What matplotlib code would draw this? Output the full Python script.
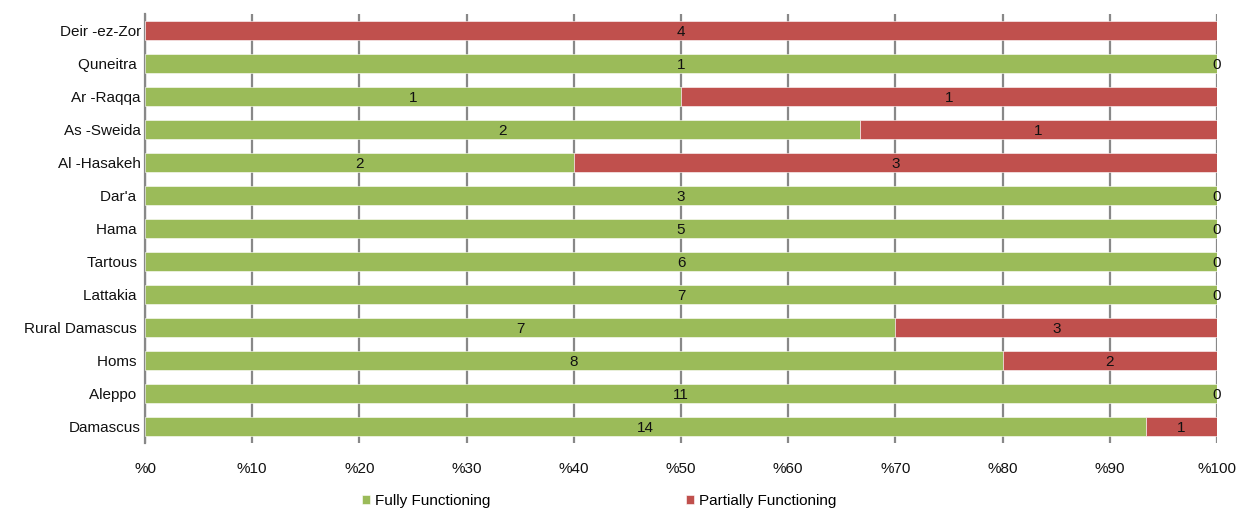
import matplotlib
matplotlib.use("Agg")
import matplotlib.pyplot as plt
import numpy as np

plt.rcParams['font.family'] = ['Liberation Sans', 'DejaVu Sans']

governorates = ["Deir -ez-Zor", "Quneitra ", "Ar -Raqqa", "As -Sweida", "Al -Hasakeh",
                "Dar'a ", "Hama ", "Tartous ", "Lattakia ", "Rural Damascus ",
                "Homs ", "Aleppo ", "Damascus"]
fully = [0, 1, 1, 2, 2, 3, 5, 6, 7, 7, 8, 11, 14]
partially = [4, 0, 1, 1, 3, 0, 0, 0, 0, 3, 2, 0, 1]
tick_values = list(range(0, 101, 10))
tick_labels = ["%" + str(v) for v in tick_values]

green = "#9BBB59"
red = "#C0504D"

fully_a = np.array(fully, dtype=float)
part_a = np.array(partially, dtype=float)
total = fully_a + part_a
fully_pct = fully_a / total * 100
part_pct = part_a / total * 100

fig = plt.figure(figsize=(12.49, 5.09), dpi=100)
ax = fig.add_axes([0.1161, 0.1297, 0.8583, 0.8428])

y = np.arange(len(governorates))[::-1]
h = 0.56
ax.barh(y, fully_pct, height=h, color=green, edgecolor="white", linewidth=0.4, zorder=3,
        label="Fully Functioning")
ax.barh(y, part_pct, left=fully_pct, height=h, color=red, edgecolor="white", linewidth=0.4,
        zorder=3, label="Partially Functioning")

for yi, f, p, fp, pp in zip(y, fully, partially, fully_pct, part_pct):
    if f > 0:
        ax.text(fp / 2, yi - 0.05, str(f), ha="center", va="center", fontsize=11,
                color="#111111", zorder=4)
    ax.text(fp + pp / 2, yi - 0.05, str(p), ha="center", va="center", fontsize=11,
            color="#111111", zorder=4)

ax.set_xlim(0, 100)
ax.set_ylim(-0.5, len(governorates) - 0.5)
ax.set_yticks(y)
ax.set_yticklabels(governorates, fontsize=11, color="#111111")
ax.set_xticks(tick_values)
ax.set_xticklabels(tick_labels, fontsize=11, color="#111111")
ax.tick_params(axis="y", length=0, pad=3)
ax.tick_params(axis="x", length=0, pad=14)
ax.grid(axis="x", color="#888888", linewidth=1.6, zorder=0)
for s in ["top", "right", "bottom"]:
    ax.spines[s].set_visible(False)
ax.spines["left"].set_color("#888888")
ax.spines["left"].set_linewidth(1.6)

handles, labels = ax.get_legend_handles_labels()
fig.legend(handles, labels, loc="lower left", bbox_to_anchor=(0.2786, -0.025), ncol=2,
           frameon=False, fontsize=11, handlelength=0.55, handleheight=0.55,
           handletextpad=0.3, columnspacing=12.8)

fig.savefig("out.png", dpi=100)
